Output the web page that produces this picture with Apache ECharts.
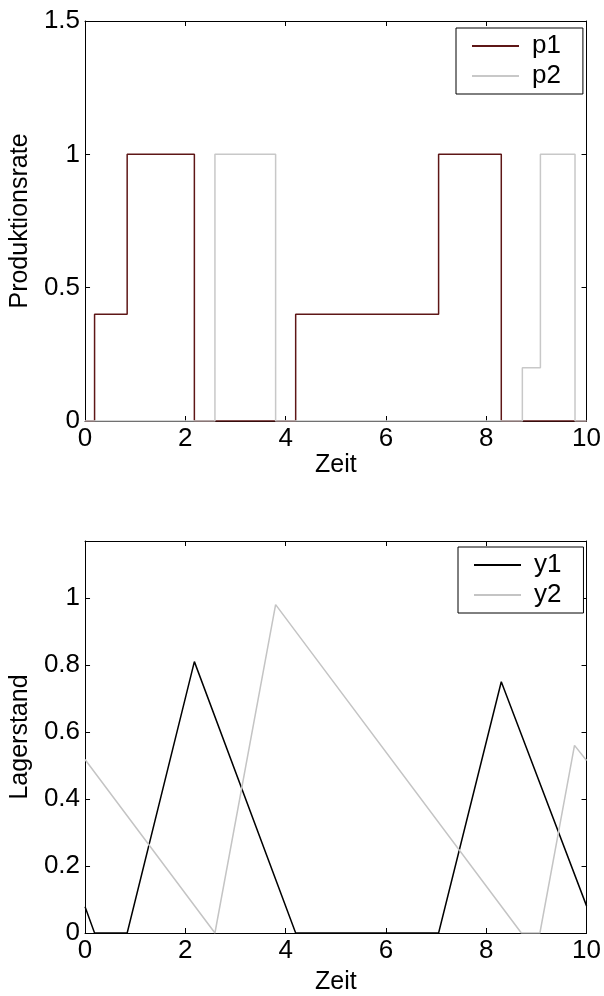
<!DOCTYPE html>
<html>
<head>
<meta charset="utf-8">
<title>Produktionsrate / Lagerstand</title>
<script src="https://cdn.jsdelivr.net/npm/echarts@6/dist/echarts.min.js"></script>
<style>
  html, body { margin: 0; padding: 0; background: #fff; }
  #chart { width: 604px; height: 996px; }
</style>
</head>
<body>
<div id="chart"></div>
<script>
// Produktionsrate (Treppenfunktion: Wert gilt ab dem Zeitpunkt bis zum nächsten)
const p1Time = [0, 0.19, 0.84, 2.18, 4.2, 7.05, 8.3, 10]
const p1Rate = [0, 0.4, 1, 0, 0.4, 1, 0, 0]
const p2Time = [0, 2.59, 3.8, 8.72, 9.08, 9.77, 10]
const p2Rate = [0, 1, 0, 0.2, 1, 0, 0]

// Lagerstand (Knickpunkte)
const y1Time = [0, 0.19, 0.84, 2.18, 4.2, 7.05, 8.3, 10]
const y1Stock = [0.078, 0, 0, 0.81, 0, 0, 0.75, 0.081]
const y2Time = [0, 2.59, 3.8, 8.7, 9.07, 9.76, 10]
const y2Stock = [0.518, 0, 0.98, 0, 0, 0.56, 0.515]

const xTicks = [0, 2, 4, 6, 8, 10]

const font = "'Liberation Sans', Arial, sans-serif"

// zwei Arrays zu [x, y] Paaren
function pairs(xs, ys) {
    return xs.map((x, i) => [x, ys[i]])
}

// x-Achse unten mit Beschriftung, oben nur Striche
function xAxes(grid, gap) {
    const common = {
        type: 'value',
        gridIndex: grid,
        min: xTicks[0],
        max: xTicks[xTicks.length - 1],
        interval: 2,
        splitLine: { show: false },
        axisLine: { show: true, onZero: false, lineStyle: { color: '#000', width: 1 } },
        axisTick: { show: true, inside: true, length: 5, lineStyle: { color: '#000' } }
    }
    return [
        Object.assign({}, common, {
            position: 'bottom',
            name: 'Zeit',
            nameLocation: 'middle',
            nameGap: gap,
            nameTextStyle: { color: '#000', fontSize: 25, fontFamily: font },
            axisLabel: { show: true, margin: 5, color: '#000', fontSize: 26, fontFamily: font }
        }),
        Object.assign({}, common, {
            position: 'top',
            axisLabel: { show: false }
        })
    ]
}

// y-Achse links mit Beschriftung, rechts nur Striche
function yAxes(grid, name, max, step) {
    const common = {
        type: 'value',
        gridIndex: grid,
        min: 0,
        max: max,
        interval: step,
        splitLine: { show: false },
        axisLine: { show: true, onZero: false, lineStyle: { color: '#000', width: 1 } },
        axisTick: { show: true, inside: true, length: 5, lineStyle: { color: '#000' } }
    }
    return [
        Object.assign({}, common, {
            position: 'left',
            name: name,
            nameLocation: 'middle',
            nameGap: 47,
            nameTextStyle: { color: '#000', fontSize: 25, fontFamily: font },
            axisLabel: {
                show: true, margin: 5, color: '#000', fontSize: 26, fontFamily: font,
                // Maximum 1.17 ist kein Teilstrich, also ohne Beschriftung
                formatter: v => (v > 1.001 && max < 1.5) ? '' : String(v)
            }
        }),
        Object.assign({}, common, {
            position: 'right',
            axisLabel: { show: false }
        })
    ]
}

function legend(left, top, names) {
    return {
        data: names,
        orient: 'vertical',
        left: left,
        top: top,
        padding: [3, 22, 3, 16],
        itemGap: 0,
        itemWidth: 47,
        itemHeight: 2,
        icon: 'rect',
        borderColor: '#000',
        borderWidth: 1,
        borderRadius: 0,
        backgroundColor: '#fff',
        selectedMode: false,
        textStyle: { color: '#000', fontSize: 26, fontFamily: font, lineHeight: 30, padding: [0, 0, 0, 8] }
    }
}

function line(name, data, color, xi, yi, step) {
    return {
        name: name,
        type: 'line',
        data: data,
        step: step || false,
        xAxisIndex: xi,
        yAxisIndex: yi,
        symbol: 'none',
        color: color,
        lineStyle: { color: color, width: 1.5 },
        z: 3
    }
}

const chart = echarts.init(document.getElementById('chart'), null, { renderer: 'canvas' })

const option = {
    animation: false,
    backgroundColor: '#fff',
    grid: [
        { left: 83, right: 15, top: 21, height: 400 },
        { left: 83, right: 15, top: 541, height: 399 }
    ],
    xAxis: xAxes(0, 32).concat(xAxes(1, 37)),
    yAxis: yAxes(0, 'Produktionsrate', 1.5, 0.5).concat(yAxes(1, 'Lagerstand', 1.17, 0.2)),
    legend: [
        legend(456, 28, ['p1', 'p2']),
        legend(458, 547, ['y1', 'y2'])
    ],
    series: [
        line('p1', pairs(p1Time, p1Rate), '#5e1616', 0, 0, 'end'),
        line('p2', pairs(p2Time, p2Rate), '#c8c8c8', 0, 0, 'end'),
        line('y1', pairs(y1Time, y1Stock), '#000000', 2, 2),
        line('y2', pairs(y2Time, y2Stock), '#c4c4c4', 2, 2)
    ]
}

chart.setOption(option)
</script>
</body>
</html>
